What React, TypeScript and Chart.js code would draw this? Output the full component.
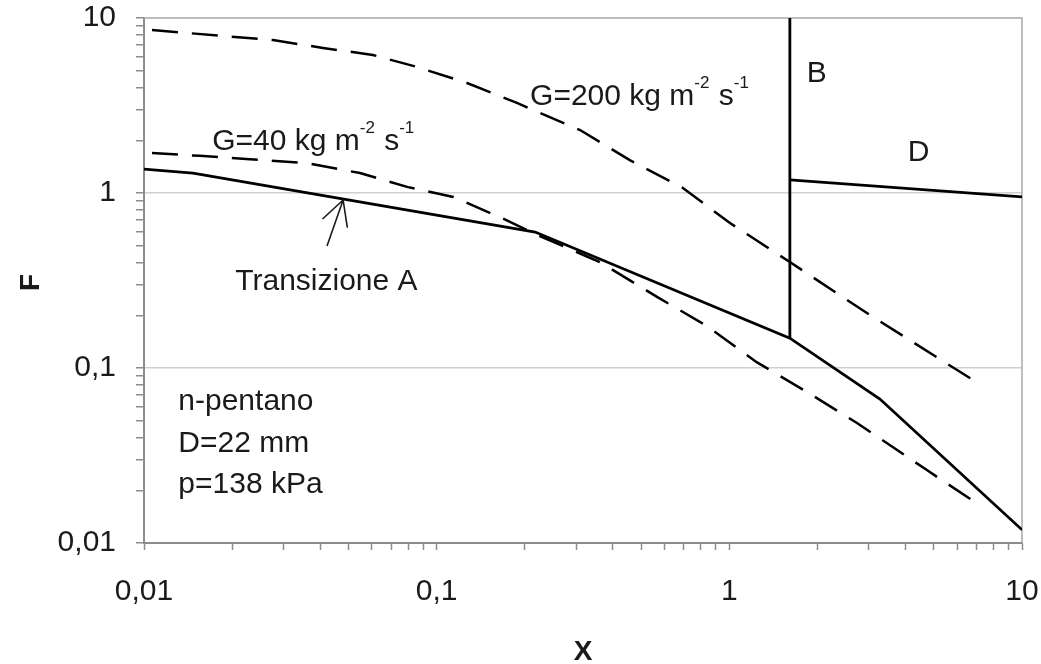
import React, { useEffect, useRef } from 'react';
import { Chart, registerables } from 'chart.js';

Chart.register(...registerables);

// ---- axis ticks ----
const MAJOR_TICKS = [0.01, 0.1, 1, 10];
const MAJOR_LABELS = ['0,01', '0,1', '1', '10'];
const MINOR_STEPS = [2, 3, 4, 5, 6, 7, 8, 9];
const Y_GRID_VALUES = [0.1, 1];

// ---- series (X, F) ----
const transitionA_X = [0.01, 0.0147, 0.217, 1.61, 3.27, 10];
const transitionA_Y = [1.37, 1.3, 0.598, 0.148, 0.0665, 0.0119];

const transitionB_X = [1.61, 1.61];
const transitionB_Y = [10, 0.148];

const transitionD_X = [1.61, 10];
const transitionD_Y = [1.19, 0.949];

const g40_X = [0.01065, 0.0155, 0.023, 0.0361, 0.0547, 0.0798, 0.114, 0.164, 0.225, 0.361, 0.566, 0.837, 1.24, 1.84, 2.73, 4.73, 6.74];
const g40_Y = [1.69, 1.63, 1.56, 1.48, 1.3, 1.08, 0.949, 0.729, 0.568, 0.403, 0.255, 0.174, 0.108, 0.073, 0.0485, 0.0261, 0.0176];

const g200_X = [0.01065, 0.0186, 0.0276, 0.0409, 0.0605, 0.0857, 0.127, 0.188, 0.309, 0.457, 0.694, 1.005, 1.61, 3.09, 6.8];
const g200_Y = [8.54, 7.89, 7.48, 6.74, 6.15, 5.25, 4.25, 3.27, 2.29, 1.54, 1.068, 0.674, 0.403, 0.196, 0.0854];

// ---- annotations (data coordinates) ----
const noteTexts = ['Transizione A', 'B', 'D', 'n-pentano', 'D=22 mm', 'p=138 kPa'];
const noteX = [0.0205, 1.84, 4.07, 0.0131, 0.0131, 0.0131];
const noteY = [0.279, 4.31, 1.52, 0.0575, 0.0331, 0.0193];

const fluxParts200 = ['G=200 kg m', '-2', ' s', '-1'];
const fluxParts40 = ['G=40 kg m', '-2', ' s', '-1'];
const fluxX = [0.2085, 0.0171];
const fluxY = [3.18, 1.76];

const arrowTip = { x: 0.0479, y: 0.912 };
const arrowTail = { x: 0.0422, y: 0.498 };

const FONT = '"Liberation Sans", Arial, Helvetica, sans-serif';
const TEXT_COLOR = '#1a1a1a';
const AXIS_GRAY = '#8c8c8c';

function buildTicks() {
  const out: { value: number }[] = [];
  for (let i = 0; i < MAJOR_TICKS.length; i++) {
    const base = MAJOR_TICKS[i];
    out.push({ value: base });
    if (i < MAJOR_TICKS.length - 1) {
      for (const m of MINOR_STEPS) out.push({ value: Number((base * m).toPrecision(6)) });
    }
  }
  return out;
}

function labelFor(v: number) {
  for (let i = 0; i < MAJOR_TICKS.length; i++) {
    if (Math.abs(v - MAJOR_TICKS[i]) < MAJOR_TICKS[i] * 1e-6) return MAJOR_LABELS[i];
  }
  return '';
}

function isGrid(v: number | undefined) {
  if (v === undefined) return false;
  return Y_GRID_VALUES.some((g) => Math.abs(v - g) < g * 1e-6);
}

const pts = (xs: number[], ys: number[]) => xs.map((x, i) => ({ x, y: ys[i] }));

const annotate = {
  id: 'annotate',
  beforeDatasetsDraw(chart: any) {
    const { ctx, chartArea } = chart;
    ctx.save();
    ctx.strokeStyle = '#a8a8a8';
    ctx.lineWidth = 1.5;
    ctx.beginPath();
    ctx.moveTo(chartArea.left, chartArea.top);
    ctx.lineTo(chartArea.right, chartArea.top);
    ctx.lineTo(chartArea.right, chartArea.bottom);
    ctx.stroke();
    ctx.restore();
  },
  afterDatasetsDraw(chart: any) {
    const { ctx } = chart;
    const xs = chart.scales.x;
    const ys = chart.scales.y;
    ctx.save();
    ctx.fillStyle = TEXT_COLOR;
    ctx.textBaseline = 'alphabetic';
    ctx.textAlign = 'left';
    ctx.font = `30px ${FONT}`;
    noteTexts.forEach((t, i) => {
      ctx.fillText(t, xs.getPixelForValue(noteX[i]), ys.getPixelForValue(noteY[i]));
    });

    const drawFlux = (parts: string[], x: number, y: number) => {
      let px = xs.getPixelForValue(x);
      const py = ys.getPixelForValue(y);
      parts.forEach((p, k) => {
        const sup = k % 2 === 1;
        ctx.font = sup ? `17px ${FONT}` : `30px ${FONT}`;
        ctx.fillText(p, px, sup ? py - 17 : py);
        px += ctx.measureText(p).width + (sup ? 1 : 0);
      });
    };
    drawFlux(fluxParts200, fluxX[0], fluxY[0]);
    drawFlux(fluxParts40, fluxX[1], fluxY[1]);

    // arrow
    const tx = xs.getPixelForValue(arrowTip.x);
    const ty = ys.getPixelForValue(arrowTip.y);
    const bx = xs.getPixelForValue(arrowTail.x);
    const by = ys.getPixelForValue(arrowTail.y);
    const ang = Math.atan2(by - ty, bx - tx);
    const head = 28;
    const spread = (28 * Math.PI) / 180;
    ctx.strokeStyle = '#1a1a1a';
    ctx.lineWidth = 1.6;
    ctx.beginPath();
    ctx.moveTo(bx, by);
    ctx.lineTo(tx, ty);
    ctx.moveTo(tx + head * Math.cos(ang + spread), ty + head * Math.sin(ang + spread));
    ctx.lineTo(tx, ty);
    ctx.lineTo(tx + head * Math.cos(ang - spread), ty + head * Math.sin(ang - spread));
    ctx.stroke();
    ctx.restore();
  },
  afterDraw(chart: any) {
    const { ctx, chartArea } = chart;
    ctx.save();
    ctx.fillStyle = TEXT_COLOR;
    ctx.font = `bold 28px ${FONT}`;
    ctx.textAlign = 'center';
    ctx.textBaseline = 'alphabetic';
    ctx.fillText('X', (chartArea.left + chartArea.right) / 2, chart.height - 4);
    ctx.translate(31, (chartArea.top + chartArea.bottom) / 2 + 2);
    ctx.rotate(-Math.PI / 2);
    ctx.textBaseline = 'middle';
    ctx.fillText('F', 0, 0);
    ctx.restore();
  },
};

export default function App() {
  const ref = useRef<HTMLCanvasElement>(null);

  useEffect(() => {
    const canvas = ref.current;
    if (!canvas) return;
    Chart.defaults.font.family = FONT;

    const solid = (label: string, xs: number[], ys: number[]) => ({
      label,
      data: pts(xs, ys),
      borderColor: '#000',
      borderWidth: 2.8,
      pointRadius: 0,
      fill: false,
      tension: 0,
      showLine: true,
    });
    const dashed = (label: string, xs: number[], ys: number[]) => ({
      ...solid(label, xs, ys),
      borderWidth: 2.5,
      borderDash: [26, 14],
    });

    const tickCommon = {
      autoSkip: false,
      maxRotation: 0,
      minRotation: 0,
      color: TEXT_COLOR,
      font: { size: 30, family: FONT },
      callback: (v: any) => labelFor(Number(v)),
    };

    const chart = new Chart(canvas, {
      type: 'line',
      data: {
        datasets: [
          solid('Transizione A', transitionA_X, transitionA_Y),
          solid('Transizione B', transitionB_X, transitionB_Y),
          solid('Transizione D', transitionD_X, transitionD_Y),
          dashed('G=40', g40_X, g40_Y),
          dashed('G=200', g200_X, g200_Y),
        ] as any,
      },
      options: {
        animation: false,
        responsive: false,
        maintainAspectRatio: false,
        devicePixelRatio: 1,
        events: [],
        parsing: false as any,
        layout: { padding: 0 },
        plugins: { legend: { display: false }, tooltip: { enabled: false } },
        scales: {
          x: {
            type: 'logarithmic',
            position: 'bottom',
            min: 0.01,
            max: 10,
            afterBuildTicks: (s: any) => {
              s.ticks = buildTicks();
            },
            afterFit: (s: any) => {
              s.height = 121;
              s.paddingLeft = 0;
              s.paddingRight = 19;
            },
            ticks: { ...tickCommon, padding: 24 },
            grid: { drawOnChartArea: false, tickLength: 7, tickColor: AXIS_GRAY, tickWidth: 1.5 },
            border: { color: AXIS_GRAY, width: 2 },
          } as any,
          y: {
            type: 'logarithmic',
            position: 'left',
            min: 0.01,
            max: 10,
            afterBuildTicks: (s: any) => {
              s.ticks = buildTicks();
            },
            afterFit: (s: any) => {
              s.width = 144;
              s.paddingTop = 18;
              s.paddingBottom = 0;
            },
            ticks: { ...tickCommon, padding: 20 },
            grid: {
              color: (c: any) => (isGrid(c.tick?.value) ? '#cfcfcf' : 'rgba(0,0,0,0)'),
              lineWidth: 1.5,
              tickLength: 8,
              tickColor: AXIS_GRAY,
              tickWidth: 1.5,
            },
            border: { color: AXIS_GRAY, width: 2 },
          } as any,
        },
      },
      plugins: [annotate],
    });
    return () => chart.destroy();
  }, []);

  return (
    <div style={{ position: 'absolute', left: 0, top: 0, width: 1041, height: 664, background: '#fff' }}>
      <canvas ref={ref} width={1041} height={664} style={{ display: 'block', width: 1041, height: 664 }} />
    </div>
  );
}
